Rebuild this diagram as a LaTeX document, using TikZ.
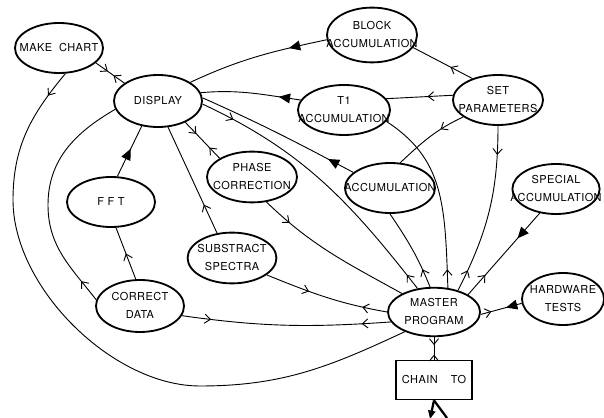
\documentclass[tikz,border=0pt]{standalone}
\usepackage{fontspec}
\newfontfamily\chartfont[LetterSpace=4]{TeX Gyre Heros}
\usetikzlibrary{shapes.geometric, arrows.meta, decorations.markings}

\newcommand{\proclabel}[1]{\makebox[0pt]{\begin{tabular}{@{}c@{}}#1\end{tabular}}}

\tikzset{
    proc/.style={ellipse, draw, line width=1.3pt, inner sep=0pt,
        minimum width=2.2cm, minimum height=1.25cm},
    link/.style={line width=0.65pt},
    fw/.style={postaction={decorate, decoration={markings,
        mark=at position #1 with {\arrow{Straight Barb[length=4pt,width=6.5pt]}}}}},
    bw/.style={postaction={decorate, decoration={markings,
        mark=at position #1 with {\arrowreversed{Straight Barb[length=4pt,width=6.5pt]}}}}},
    tf/.style={postaction={decorate, decoration={markings,
        mark=at position #1 with {\arrow{Triangle[length=8pt,width=7pt]}}}}},
    tb/.style={postaction={decorate, decoration={markings,
        mark=at position #1 with {\arrowreversed{Triangle[length=8pt,width=7pt]}}}}}
}

\begin{document}
\begin{tikzpicture}[x=0.025cm, y=-0.025cm, font=\chartfont\fontsize{7.8}{12.2}\selectfont]
            \useasboundingbox (0,0) rectangle (604,418);

            \node[proc] (makechart) at (59,48) {\proclabel{MAKE\ \ CHART}};
            \node[proc, minimum height=1.3cm] (display) at (158,101) {\proclabel{DISPLAY}};
            \node[proc, minimum width=2.25cm, minimum height=1.37cm] (block) at (372,35) {\proclabel{BLOCK\\ACCUMULATION}};
            \node[proc, minimum width=2.3cm] (t1) at (344,110) {\proclabel{T1\\ACCUMULATION}};
            \node[proc, minimum width=2.25cm] (setpar) at (498,100) {\proclabel{SET\\PARAMETERS}};
            \node[proc, minimum width=2.25cm] (accum) at (390,188) {\proclabel{ACCUMULATION}};
            \node[proc, minimum width=2.25cm, minimum height=1.27cm] (phase) at (252,177) {\proclabel{PHASE\\CORRECTION}};
            \node[proc] (fft) at (111,202) {\proclabel{F F T}};
            \node[proc, minimum width=2.22cm, minimum height=1.27cm] (subspec) at (232,258) {\proclabel{SUBSTRACT\\SPECTRA}};
            \node[proc, minimum height=1.3cm] (corrdata) at (140,306) {\proclabel{CORRECT\\DATA}};
            \node[proc, minimum width=2.3cm, minimum height=1.2cm] (master) at (434,312) {\proclabel{MASTER\\PROGRAM}};
            \node[proc, minimum width=2.18cm] (special) at (556,189) {\proclabel{SPECIAL\\ACCUMULATION}};
            \node[proc, minimum width=2.05cm, minimum height=1.3cm] (hardware) at (563,299) {\proclabel{HARDWARE\\TESTS}};
            \node[draw, line width=1.3pt, minimum width=1.9cm, minimum height=0.975cm] (chain) at (434,380) {CHAIN\hspace{1.2em}TO};
            \coordinate (exitleft) at (430,419);
            \coordinate (exitright) at (447,418);

            \draw[link, fw=0.42, bw=0.62] (makechart.-22) -- (display.152);
            \draw[link, fw=0.7cm] (makechart.-76) to[out=-130, in=90] (13,200)
                to[out=-90, in=180, looseness=0.85] (200,386) to[out=0, in=-155] (master.-146);
            \draw[link, fw=0.6cm] (corrdata.172) to[out=128, in=-90] (48,205) to[out=90, in=-150] (display.-169);
            \draw[link, fw=0.5] (corrdata.99) -- (fft.-79);
            \draw[link, tf=0.55] (fft.76) -- (display.-123);
            \draw[link, fw=0.14, bw=0.86] (corrdata.-13) to[out=-8, in=-176] (master.-167);
            \draw[link, fw=0.36, bw=0.8] (subspec.-26) to[out=-22, in=170] (master.180);
            \draw[link, fw=0.27] (subspec.121) -- (display.-69);
            \draw[link, fw=0.32, bw=0.7] (display.-38) -- (phase.150);
            \draw[link, fw=0.19] (phase.-60) to[out=-44, in=151] (master.150);
            \draw[link, fw=0.12, bw=0.94] (display.-4) to[out=-25, in=128] (master.125);
            \draw[link, tf=0.17] (accum.157) to[out=152, in=-24] (display.4);
            \draw[link, tf=0.22] (t1.167) to[out=172, in=5] (display.11);
            \draw[link, tf=0.27] (block.-174) to[out=-168, in=25] (display.30);
            \draw[link, fw=0.37] (setpar.140) -- (block.-17);
            \draw[link, fw=0.38] (setpar.174) -- (t1.15);
            \draw[link, fw=0.33] (setpar.-154) to[out=-155, in=43] (accum.68);
            \draw[link, fw=0.17, bw=0.87] (setpar.-90) to[out=-90, in=63] (master.42);
            \draw[link, bw=0.9] (t1.-15) to[out=-33, in=92, in looseness=1.2] (master.60);
            \draw[link, bw=0.77] (accum.-90) to[out=-56, in=112] (master.99);
            \draw[link, tf=0.31, bw=0.76] (special.-124) -- (master.27);
            \draw[link, fw=0.26, tb=0.62] (master.-3) -- (hardware.-174);
            \draw[link, fw=0.35, bw=0.78] (master.south) -- (chain.north);
            \draw[line width=1.6pt] (chain.south) -- (exitright);
            \draw[line width=1.6pt, -{Triangle[length=6pt,width=5pt]}] (chain.south) -- (exitleft);
        \end{tikzpicture}
\end{document}
